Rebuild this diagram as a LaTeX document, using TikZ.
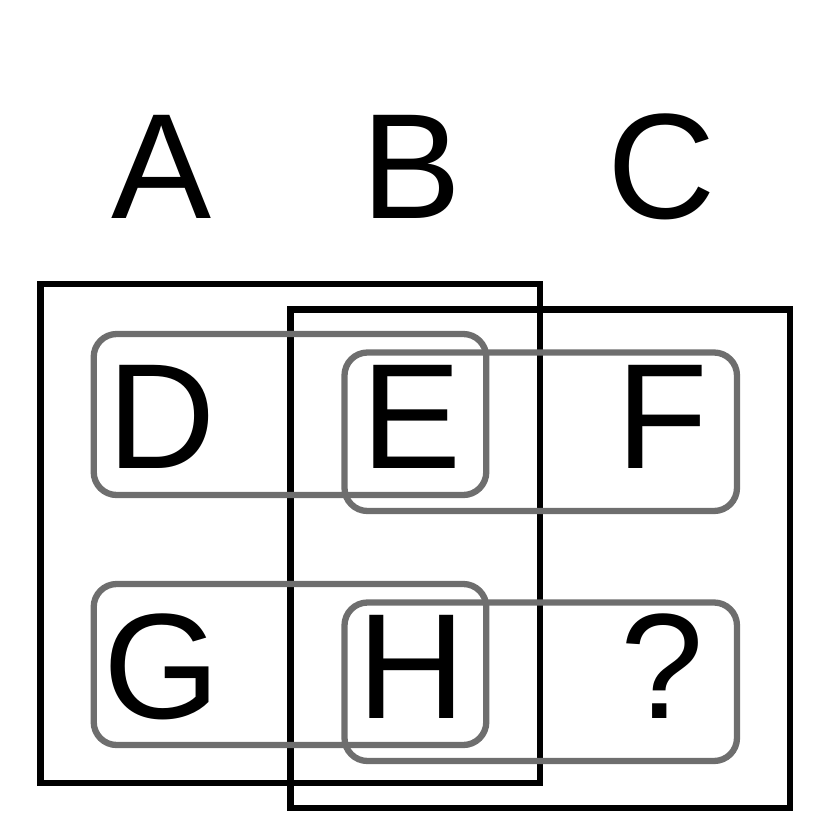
\documentclass[tikz,border=0pt]{standalone}
\usepackage{fontspec}
\setmainfont{Liberation Sans}
\usepackage{tikz}
\definecolor{boxgray}{RGB}{110,110,110}

\begin{document}
\begin{tikzpicture}[x=1pt,y=-1pt]
\tikzstyle{every node}+=[inner sep=0pt]
\tikzstyle{letter}=[anchor=base,font=\fontsize{150}{150}\selectfont]
\tikzstyle{outer}=[black,line width=6.5pt]
\tikzstyle{pair}=[boxgray,line width=6.3pt,rounded corners=23pt]
\useasboundingbox (0,0) rectangle (831,839);
\draw [outer] (40.5,284) rectangle (540,783);
\draw [outer] (290.5,309.5) rectangle (790,808);
\draw [pair] (93.7,334) rectangle (486.3,495);
\draw [pair] (344.5,352.5) rectangle (737,511);
\draw [pair] (93.7,584) rectangle (486.3,745);
\draw [pair] (344.5,602.5) rectangle (737,761);
\node [letter] (A) at (162,218) {A};
\node [letter] (B) at (412,218) {B};
\node [letter] (C) at (662,218) {C};
\node [letter] (D) at (162,468) {D};
\node [letter] (E) at (412,468) {E};
\node [letter] (F) at (662,468) {F};
\node [letter] (G) at (162,718) {G};
\node [letter] (H) at (412,718) {H};
\node [letter] (Q) at (662,718) {?};
\end{tikzpicture}
\end{document}
